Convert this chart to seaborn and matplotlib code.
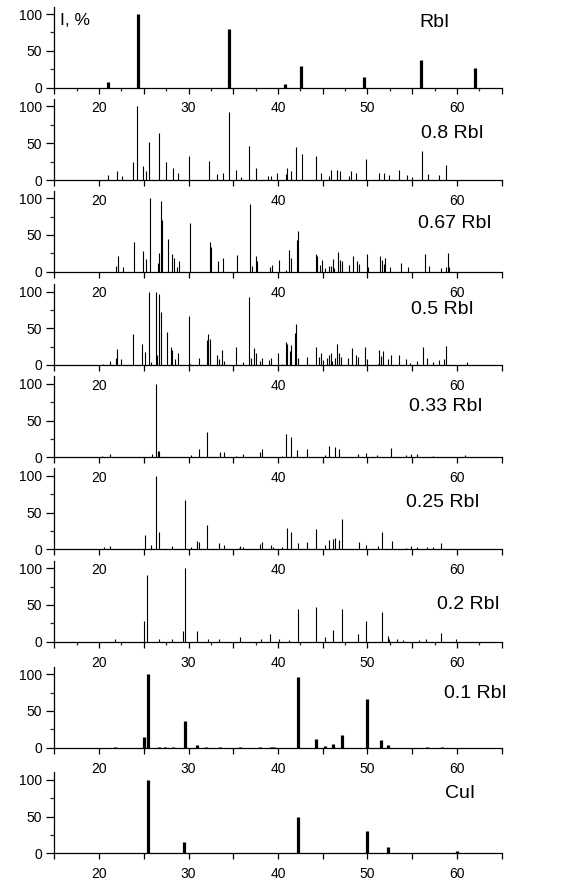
import matplotlib
matplotlib.use("Agg")
import matplotlib.pyplot as plt
import seaborn as sns
from matplotlib.ticker import FixedLocator, NullLocator

# peak positions (2theta, deg) and relative intensities (I, %) per sample
rbi_pos = [21.0, 24.3, 34.55, 40.8, 42.6, 49.6, 56.0, 62.0]
rbi_int = [8, 100, 79, 5, 29, 14, 38, 27]

s080_pos = [21.0, 22.0, 22.6, 23.75, 24.27, 24.87, 25.2, 25.58, 26.73, 27.5, 28.3, 28.8,
            30.05, 32.3, 33.2, 33.8, 34.55, 35.26, 35.9, 36.8, 37.5, 38.9, 39.17, 39.9,
            40.85, 41.0, 41.4, 42.04, 42.67, 44.24, 44.83, 45.65, 45.9, 46.55, 46.9, 47.9,
            48.2, 48.7, 49.8, 51.3, 51.8, 52.4, 53.5, 54.4, 55.0, 56.08, 56.75, 58.0, 58.8]
s080_int = [7, 12, 5, 24, 100, 19, 12, 52, 64, 24, 17, 9,
            32, 26, 8, 10, 93, 13, 4, 46, 17, 5, 5, 9,
            8, 16, 12, 45, 35, 32, 10, 6, 13, 14, 12, 5,
            12, 10, 28, 10, 10, 7, 14, 7, 4, 40, 8, 7, 20]

s067_pos = [21.93, 22.1, 22.67, 23.94, 24.94, 25.3, 25.69, 26.55, 26.73, 26.9, 27.07, 27.66,
            28.18, 28.33, 28.67, 28.9, 30.2, 32.36, 32.55, 33.32, 33.9, 35.4, 36.86, 37.12,
            37.5, 37.68, 39.06, 39.28, 40.06, 40.9, 41.18, 41.48, 42.08, 42.19, 44.3, 44.4,
            44.7, 44.9, 45.2, 45.72, 45.95, 46.1, 46.3, 46.66, 46.96, 47.1, 47.96, 48.4,
            48.8, 49.0, 49.9, 50.05, 51.4, 51.6, 51.8, 52.0, 52.5, 53.7, 54.5, 56.4,
            56.9, 58.2, 58.76, 58.95, 59.1]
s067_int = [8, 21, 7, 41, 28, 17, 100, 12, 25, 96, 71, 44,
            24, 19, 6, 15, 66, 41, 34, 14, 18, 23, 92, 8,
            22, 15, 7, 9, 16, 2, 29, 18, 43, 55, 24, 21,
            9, 16, 5, 8, 8, 17, 5, 27, 16, 14, 9, 22,
            15, 10, 24, 7, 21, 16, 11, 18, 7, 12, 7, 24,
            8, 5, 7, 25, 6]

s050_pos = [20.4, 21.26, 21.85, 22.0, 22.5, 23.8, 24.8, 25.17, 25.58, 25.85, 26.36, 26.5,
            26.7, 26.92, 27.55, 28.04, 28.2, 28.5, 28.8, 30.08, 30.2, 31.16, 32.1, 32.2,
            32.4, 33.17, 33.44, 33.73, 33.96, 35.26, 36.1, 36.79, 37.0, 37.35, 37.5, 38.0,
            38.2, 39.0, 39.17, 39.95, 40.4, 40.9, 41.03, 41.3, 41.44, 41.9, 42.04, 42.2,
            43.2, 44.2, 44.6, 44.83, 45.0, 45.5, 45.65, 45.88, 46.0, 46.35, 46.55, 46.8,
            47.0, 47.8, 48.26, 48.67, 48.9, 49.75, 49.94, 51.16, 51.28, 51.5, 51.76, 52.3,
            52.6, 53.5, 54.33, 54.7, 55.5, 56.2, 56.7, 57.27, 57.94, 58.6, 58.76, 61.07]
s050_int = [2, 6, 9, 22, 8, 42, 29, 18, 100, 4, 100, 14,
            97, 72, 45, 25, 21, 8, 16, 66, 2, 10, 34, 42,
            35, 14, 8, 20, 5, 25, 4, 92, 9, 23, 17, 6,
            10, 7, 9, 17, 2, 31, 29, 19, 27, 44, 56, 10,
            11, 25, 11, 17, 7, 9, 13, 17, 5, 10, 28, 16,
            11, 9, 23, 14, 11, 25, 8, 2, 20, 12, 19, 8,
            14, 14, 8, 3, 5, 25, 10, 4, 7, 8, 26, 4]

s033_pos = [20.36, 21.26, 25.9, 26.36, 26.55, 26.7, 30.27, 31.16, 32.1, 33.5, 34.0, 35.26,
            36.1, 38.0, 38.2, 40.4, 40.9, 41.44, 42.1, 43.2, 45.2, 45.65, 46.35, 46.8,
            48.9, 49.8, 51.1, 52.6, 54.3, 54.85, 55.5, 57.35, 60.9]
s033_int = [2, 5, 4, 100, 9, 9, 3, 11, 34, 7, 7, 2,
            4, 7, 11, 2, 32, 27, 10, 11, 3, 15, 14, 11,
            5, 6, 3, 13, 3, 4, 4, 2, 3]

s025_pos = [20.5, 21.26, 25.17, 25.85, 26.36, 26.7, 28.2, 29.6, 30.27, 30.9, 31.2, 32.1,
            33.44, 34.0, 35.6, 35.8, 36.1, 38.0, 38.2, 39.17, 39.47, 40.4, 40.96, 41.44,
            42.2, 43.23, 44.2, 45.28, 45.65, 46.1, 46.35, 46.84, 47.1, 49.0, 49.86, 51.13,
            51.6, 52.7, 54.3, 54.85, 55.56, 56.6, 57.27, 58.17]
s025_int = [3, 5, 20, 6, 100, 23, 4, 67, 3, 11, 10, 33,
            9, 6, 2, 4, 3, 7, 10, 6, 3, 3, 29, 24,
            9, 10, 28, 6, 13, 14, 16, 13, 41, 10, 6, 4,
            23, 11, 2, 4, 3, 3, 3, 8]

s020_pos = [21.74, 25.06, 25.35, 26.7, 28.2, 29.4, 29.6, 30.9, 32.2, 33.44, 35.8, 38.1,
            39.1, 40.1, 41.2, 42.2, 44.24, 45.24, 46.1, 47.1, 48.9, 49.86, 51.6, 52.24,
            52.4, 53.25, 54.0, 55.8, 56.5, 58.17, 59.9]
s020_int = [3, 28, 91, 4, 4, 14, 100, 15, 4, 4, 6, 3,
            10, 3, 2, 45, 47, 7, 16, 44, 10, 28, 41, 8,
            4, 3, 2, 2, 3, 12, 4]

s010_pos = [21.8, 25.06, 25.5, 26.7, 27.4, 28.3, 29.6, 30.9, 32.0, 33.5, 35.8, 38.0,
            39.2, 39.5, 42.2, 44.24, 45.24, 46.1, 47.1, 49.9, 51.5, 52.3, 56.7, 58.3]
s010_int = [1, 14, 100, 1, 1, 1, 37, 4, 1, 1, 1, 1,
            1, 1, 96, 12, 2, 5, 17, 66, 10, 4, 1, 1]

cui_pos = [25.43, 29.5, 42.26, 49.93, 52.32, 59.95]
cui_int = [100, 15, 50, 31, 8, 3]

sample_names = ["RbI", "0.8 RbI", "0.67 RbI", "0.5 RbI", "0.33 RbI",
                "0.25 RbI", "0.2 RbI", "0.1 RbI", "CuI"]
sample_pos = [rbi_pos, s080_pos, s067_pos, s050_pos, s033_pos,
              s025_pos, s020_pos, s010_pos, cui_pos]
sample_int = [rbi_int, s080_int, s067_int, s050_int, s033_int,
              s025_int, s020_int, s010_int, cui_int]

# layout / style per panel
thick = [True, False, False, False, False, False, False, True, True]
tick_labels = [[20, 30, 40, 50, 60], [20, 40, 60], [20, 40, 60], [20, 40, 60], [20, 40, 60],
               [20, 40, 60], [20, 30, 40, 50, 60], [20, 30, 40, 50, 60], [20, 30, 40, 50, 60]]
minor_x = [True, False, False, False, False, False, True, False, False]
label_xy = [(57.5, 89), (59.5, 63), (59.8, 66), (58.4, 76), (58.8, 69),
            (58.4, 63), (61.3, 51), (62.1, 74), (60.3, 82)]

sns.set_theme(style="ticks")
plt.rcParams['font.family'] = ['Liberation Sans', 'DejaVu Sans']

W, H = 582, 883
fig = plt.figure(figsize=(W / 100, H / 100), dpi=100)
left_px, right_px = 54.3, 501.7
zero_px = [87.5, 180, 271.7, 365, 457.3, 549.3, 641.7, 747.7, 853.3]
unit_px = 0.735
ytop = 110

for i, name in enumerate(sample_names):
    bottom = (H - zero_px[i]) / H
    ax = fig.add_axes([left_px / W, bottom, (right_px - left_px) / W, ytop * unit_px / H])
    ax.patch.set_visible(False)
    ax.vlines(sample_pos[i], 0, sample_int[i], colors="black",
              lw=2.3 if thick[i] else 0.8)
    ax.set_xlim(15, 65)
    ax.set_ylim(0, ytop)
    sns.despine(ax=ax)
    for sp in ("left", "bottom"):
        ax.spines[sp].set_linewidth(0.9)
        ax.spines[sp].set_color("black")

    xt = list(range(15, 66, 5))
    ax.xaxis.set_major_locator(FixedLocator(xt))
    ax.set_xticklabels([str(t) if t in tick_labels[i] else "" for t in xt])
    if minor_x[i]:
        ax.xaxis.set_minor_locator(FixedLocator([17.5 + 5 * k for k in range(10)]))
    else:
        ax.xaxis.set_minor_locator(NullLocator())
    ax.yaxis.set_major_locator(FixedLocator([0, 50, 100]))
    ax.yaxis.set_minor_locator(FixedLocator([25, 75]))
    ax.set_yticklabels(["0", "50", "100"])

    ax.tick_params(axis="x", which="major", direction="out", length=4, width=0.9,
                   pad=6, labelsize=10, colors="black")
    ax.tick_params(axis="x", which="minor", direction="out", length=2.2, width=0.9)
    ax.tick_params(axis="y", which="major", direction="out", length=6, width=0.9,
                   pad=3, labelsize=10, colors="black")
    ax.tick_params(axis="y", which="minor", direction="out", length=3, width=0.9)
    ax.grid(False)

    lx, ly = label_xy[i]
    ax.text(lx, ly, name, ha="center", va="center", fontsize=14, color="black")
    if i == 0:
        ax.text(15.6, 91, "I, %", ha="left", va="center", fontsize=12.5, color="black")

fig.savefig("out.png", dpi=100)
